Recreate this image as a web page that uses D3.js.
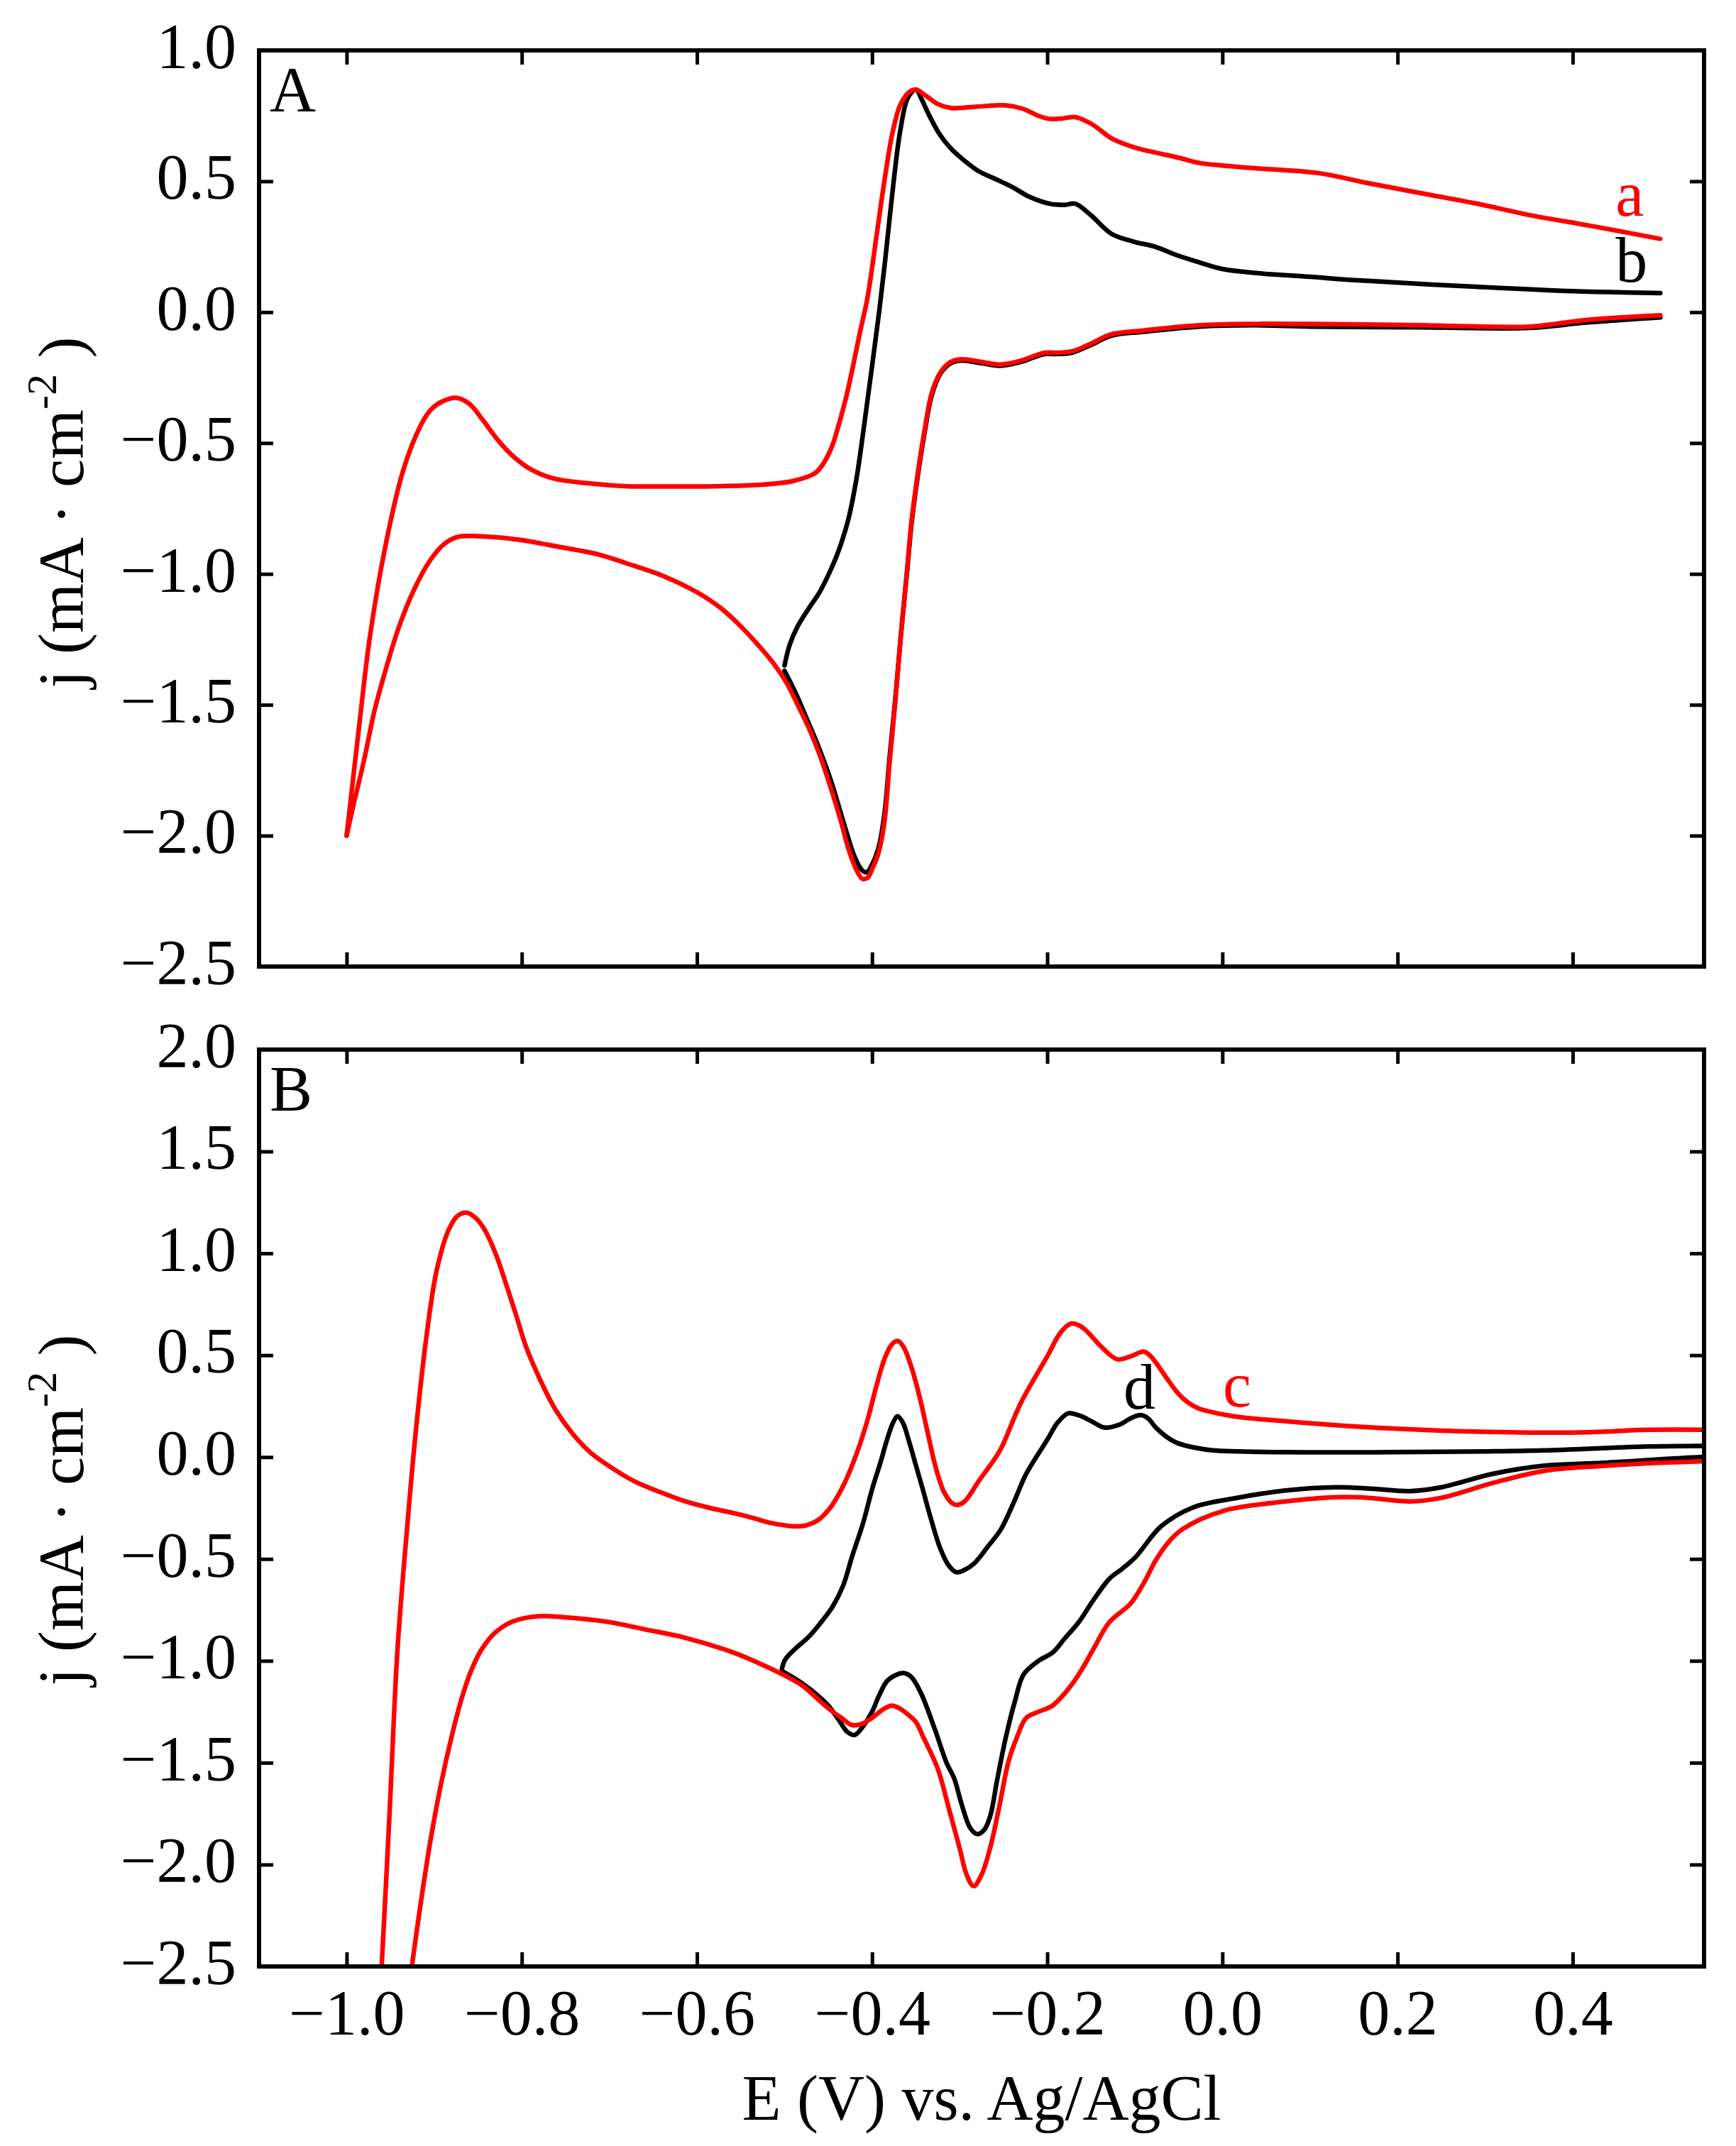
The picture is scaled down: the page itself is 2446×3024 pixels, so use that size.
<!DOCTYPE html>
<html><head><meta charset="utf-8">
<script src="https://cdn.jsdelivr.net/npm/d3@7"></script>
<style>
html,body{margin:0;padding:0;background:#fff;}
text{font-family:"Liberation Serif","Times New Roman",Times,serif;}
</style></head>
<body>
<svg id="chart" width="2446" height="3024"></svg>
<script>
// ---------- data ----------
const xTicks = [-1.0, -0.8, -0.6, -0.4, -0.2, 0.0, 0.2, 0.4];
const yTicksA = [1.0, 0.5, 0.0, -0.5, -1.0, -1.5, -2.0, -2.5];
const yTicksB = [2.0, 1.5, 1.0, 0.5, 0.0, -0.5, -1.0, -1.5, -2.0, -2.5];
const xDomain = [-1.1, 0.55];
const yDomainA = [-2.5, 1.0];
const yDomainB = [-2.5, 2.0];

// Panel A, curve a (red)   [E (V), j (mA cm-2)]
const curveA_a_fwd = [
 [-1.0,-2.0],[-0.986,-1.59],[-0.973,-1.23],[-0.954,-0.865],[-0.935,-0.6],[-0.915,-0.43],[-0.903,-0.37],
 [-0.89,-0.34],[-0.875,-0.327],[-0.86,-0.35],[-0.845,-0.41],[-0.827,-0.49],[-0.81,-0.55],[-0.79,-0.6],
 [-0.764,-0.635],[-0.72,-0.655],[-0.68,-0.665],[-0.637,-0.666],[-0.58,-0.665],[-0.53,-0.66],[-0.49,-0.645],
 [-0.465,-0.615],[-0.455,-0.575],[-0.446,-0.515],[-0.438,-0.43],[-0.43,-0.33],[-0.422,-0.21],[-0.414,-0.08],
 [-0.405,0.06],[-0.395,0.29],[-0.386,0.5],[-0.377,0.68],[-0.368,0.79],[-0.358,0.84],[-0.35,0.85],
 [-0.34,0.83],[-0.325,0.795],[-0.31,0.78],[-0.28,0.785],[-0.247,0.79],[-0.228,0.777],[-0.21,0.75],
 [-0.197,0.738],[-0.183,0.74],[-0.168,0.745],[-0.15,0.72],[-0.127,0.665],[-0.11,0.64],[-0.096,0.625],
 [-0.077,0.61],[-0.05,0.59],[-0.026,0.57],[0.0,0.56],[0.037,0.55],[0.112,0.53],[0.163,0.495],[0.226,0.455],
 [0.29,0.415],[0.352,0.37],[0.42,0.33],[0.5,0.28]
];
const curveA_a_rev = [
 [0.5,-0.012],[0.415,-0.03],[0.352,-0.055],[0.3,-0.055],[0.226,-0.05],[0.1,-0.045],[0.037,-0.045],
 [-0.026,-0.05],[-0.09,-0.07],[-0.127,-0.085],[-0.15,-0.12],[-0.172,-0.15],[-0.19,-0.155],[-0.203,-0.155],
 [-0.23,-0.185],[-0.254,-0.2],[-0.275,-0.19],[-0.298,-0.18],[-0.31,-0.19],[-0.322,-0.23],[-0.332,-0.31],
 [-0.34,-0.45],[-0.348,-0.62],[-0.355,-0.8],[-0.36,-0.985],[-0.367,-1.23],[-0.373,-1.47],[-0.38,-1.72],
 [-0.386,-1.95],[-0.393,-2.07],[-0.399,-2.12],[-0.405,-2.16],[-0.411,-2.165],[-0.418,-2.13],[-0.427,-2.05],
 [-0.436,-1.94],[-0.446,-1.83],[-0.46,-1.69],[-0.472,-1.59],[-0.485,-1.5],[-0.497,-1.42],[-0.513,-1.34],
 [-0.529,-1.276],[-0.55,-1.2],[-0.573,-1.13],[-0.6,-1.07],[-0.637,-1.01],[-0.68,-0.96],[-0.713,-0.925],
 [-0.76,-0.895],[-0.802,-0.87],[-0.83,-0.86],[-0.859,-0.855],[-0.875,-0.86],[-0.89,-0.89],[-0.905,-0.95],
 [-0.923,-1.06],[-0.94,-1.2],[-0.954,-1.35],[-0.968,-1.52],[-0.98,-1.71],[-0.992,-1.88],[-1.0,-2.0]
];

// Panel A, curve b (black)
const curveA_b_fwd = [
 [-0.5,-1.35],[-0.494,-1.27],[-0.485,-1.2],[-0.472,-1.13],[-0.46,-1.07],[-0.448,-0.99],[-0.437,-0.9],
 [-0.427,-0.79],[-0.418,-0.64],[-0.411,-0.48],[-0.405,-0.33],[-0.399,-0.18],[-0.392,0.0],[-0.385,0.2],
 [-0.377,0.45],[-0.368,0.69],[-0.359,0.82],[-0.35,0.85],[-0.343,0.81],[-0.336,0.76],[-0.323,0.68],
 [-0.31,0.625],[-0.295,0.58],[-0.279,0.54],[-0.26,0.51],[-0.241,0.48],[-0.22,0.44],[-0.197,0.414],
 [-0.18,0.41],[-0.168,0.414],[-0.15,0.37],[-0.127,0.3],[-0.102,0.27],[-0.077,0.25],[-0.05,0.215],
 [-0.026,0.19],[0.0,0.165],[0.037,0.15],[0.1,0.135],[0.163,0.12],[0.289,0.097],[0.4,0.08],[0.5,0.073]
];
const curveA_b_rev = [
 [0.5,-0.02],[0.415,-0.04],[0.352,-0.06],[0.226,-0.058],[0.1,-0.055],[0.037,-0.05],[-0.026,-0.055],
 [-0.09,-0.075],[-0.127,-0.09],[-0.15,-0.125],[-0.172,-0.155],[-0.19,-0.16],[-0.203,-0.16],[-0.23,-0.19],
 [-0.254,-0.205],[-0.275,-0.195],[-0.298,-0.185],[-0.31,-0.195],[-0.322,-0.235],[-0.332,-0.32],[-0.34,-0.46],
 [-0.348,-0.63],[-0.355,-0.81],[-0.36,-0.99],[-0.367,-1.23],[-0.373,-1.46],[-0.38,-1.7],[-0.386,-1.92],
 [-0.393,-2.05],[-0.4,-2.11],[-0.406,-2.14],[-0.412,-2.13],[-0.42,-2.08],[-0.428,-2.0],[-0.437,-1.9],
 [-0.447,-1.79],[-0.46,-1.67],[-0.475,-1.55],[-0.488,-1.45],[-0.5,-1.37]
];

// Panel B, curve c (red)
const curveB_c_fwd = [
 [-0.965,-2.85],[-0.96,-2.5],[-0.951,-1.75],[-0.942,-0.95],[-0.931,-0.35],[-0.92,0.17],[-0.908,0.62],
 [-0.897,0.92],[-0.883,1.12],[-0.873,1.185],[-0.863,1.2],[-0.853,1.175],[-0.843,1.12],[-0.83,1.0],
 [-0.818,0.85],[-0.806,0.69],[-0.795,0.54],[-0.778,0.37],[-0.762,0.236],[-0.742,0.115],[-0.722,0.024],
 [-0.7,-0.045],[-0.671,-0.12],[-0.64,-0.175],[-0.615,-0.215],[-0.585,-0.25],[-0.558,-0.275],[-0.535,-0.3],
 [-0.519,-0.32],[-0.5,-0.335],[-0.488,-0.34],[-0.475,-0.335],[-0.462,-0.31],[-0.448,-0.25],[-0.434,-0.15],
 [-0.42,-0.01],[-0.406,0.17],[-0.395,0.35],[-0.386,0.48],[-0.378,0.55],[-0.371,0.57],[-0.364,0.54],
 [-0.355,0.44],[-0.346,0.3],[-0.337,0.13],[-0.328,-0.04],[-0.318,-0.17],[-0.309,-0.225],[-0.3035,-0.235],
 [-0.295,-0.22],[-0.277,-0.11],[-0.265,-0.04],[-0.253,0.04],[-0.23,0.267],[-0.2,0.494],[-0.185,0.61],
 [-0.173,0.655],[-0.163,0.645],[-0.153,0.61],[-0.138,0.54],[-0.12,0.48],[-0.105,0.494],[-0.09,0.518],
 [-0.083,0.5],[-0.076,0.464],[-0.064,0.39],[-0.052,0.32],[-0.04,0.27],[-0.028,0.24],[0.013,0.2],
 [0.072,0.176],[0.161,0.148],[0.25,0.13],[0.33,0.122],[0.398,0.12],[0.44,0.125],[0.475,0.133],[0.56,0.134]
];
const curveB_c_rev = [
 [0.56,-0.02],[0.546,-0.021],[0.427,-0.045],[0.368,-0.067],[0.309,-0.127],[0.25,-0.2],[0.214,-0.218],
 [0.167,-0.2],[0.13,-0.197],[0.072,-0.218],[0.001,-0.264],[-0.046,-0.355],[-0.062,-0.42],[-0.076,-0.506],
 [-0.09,-0.62],[-0.105,-0.72],[-0.129,-0.81],[-0.147,-0.94],[-0.164,-1.067],[-0.18,-1.16],[-0.194,-1.22],
 [-0.21,-1.25],[-0.224,-1.28],[-0.235,-1.38],[-0.244,-1.49],[-0.255,-1.72],[-0.265,-1.915],[-0.275,-2.05],
 [-0.284,-2.106],[-0.292,-2.05],[-0.3,-1.92],[-0.312,-1.73],[-0.325,-1.53],[-0.342,-1.37],[-0.35,-1.3],
 [-0.36,-1.26],[-0.37,-1.23],[-0.378,-1.22],[-0.388,-1.24],[-0.4,-1.28],[-0.412,-1.31],[-0.423,-1.315],
 [-0.435,-1.28],[-0.448,-1.24],[-0.462,-1.188],[-0.48,-1.12],[-0.502,-1.067],[-0.53,-1.01],[-0.558,-0.96],
 [-0.615,-0.885],[-0.66,-0.845],[-0.7,-0.81],[-0.74,-0.79],[-0.773,-0.78],[-0.79,-0.785],[-0.812,-0.81],
 [-0.83,-0.86],[-0.846,-0.945],[-0.858,-1.05],[-0.869,-1.19],[-0.88,-1.37],[-0.892,-1.6],[-0.903,-1.85],
 [-0.913,-2.12],[-0.923,-2.42],[-0.926,-2.52],[-0.93,-2.65]
];

// Panel B, curve d (black)
const curveB_d_fwd = [
 [-0.503,-1.04],[-0.5,-1.0],[-0.496,-0.976],[-0.485,-0.93],[-0.473,-0.885],[-0.46,-0.82],[-0.445,-0.733],
 [-0.433,-0.63],[-0.423,-0.49],[-0.41,-0.32],[-0.4,-0.158],[-0.39,-0.02],[-0.383,0.085],[-0.376,0.17],
 [-0.371,0.2],[-0.365,0.17],[-0.358,0.08],[-0.35,-0.04],[-0.342,-0.16],[-0.333,-0.3],[-0.322,-0.45],
 [-0.312,-0.535],[-0.304,-0.565],[-0.295,-0.555],[-0.283,-0.52],[-0.268,-0.44],[-0.253,-0.355],[-0.238,-0.22],
 [-0.224,-0.082],[-0.2,0.085],[-0.188,0.17],[-0.176,0.215],[-0.168,0.21],[-0.159,0.197],[-0.147,0.17],
 [-0.135,0.145],[-0.117,0.16],[-0.105,0.19],[-0.093,0.206],[-0.085,0.19],[-0.076,0.145],[-0.064,0.1],
 [-0.052,0.07],[-0.03,0.045],[-0.011,0.033],[0.072,0.024],[0.19,0.024],[0.3,0.028],[0.368,0.033],
 [0.486,0.052],[0.56,0.055]
];
const curveB_d_rev = [
 [0.56,0.0],[0.546,0.0],[0.427,-0.03],[0.368,-0.042],[0.309,-0.082],[0.25,-0.148],[0.214,-0.167],
 [0.17,-0.155],[0.13,-0.148],[0.072,-0.164],[0.013,-0.203],[-0.034,-0.248],[-0.07,-0.34],[-0.099,-0.49],
 [-0.115,-0.55],[-0.129,-0.597],[-0.147,-0.7],[-0.164,-0.81],[-0.18,-0.89],[-0.194,-0.96],[-0.21,-1.0],
 [-0.227,-1.067],[-0.237,-1.2],[-0.247,-1.37],[-0.257,-1.58],[-0.265,-1.76],[-0.272,-1.83],[-0.28,-1.85],
 [-0.288,-1.82],[-0.298,-1.7],[-0.306,-1.58],[-0.315,-1.5],[-0.328,-1.34],[-0.344,-1.16],[-0.355,-1.08],
 [-0.364,-1.06],[-0.373,-1.07],[-0.383,-1.1],[-0.392,-1.17],[-0.4,-1.25],[-0.41,-1.32],[-0.42,-1.364],
 [-0.428,-1.35],[-0.438,-1.29],[-0.45,-1.22],[-0.462,-1.17],[-0.48,-1.11],[-0.503,-1.05]
];

// ---------- drawing ----------
const svg = d3.select("#chart");
const FS = 90;
const FONT = '"Liberation Serif","Times New Roman",Times,serif';
const left = 365, right = 2401;
const x = d3.scaleLinear().domain(xDomain).range([left, right]);
const yA = d3.scaleLinear().domain(yDomainA).range([1362, 71]);
const yB = d3.scaleLinear().domain(yDomainB).range([2771, 1479]);
const fmt = d3.format(".1f");

function panel(id, y, yTicks, showXLabels, series, labels, label, titleCY){
  const top = y.range()[1], bottom = y.range()[0];
  const g = svg.append("g");
  g.append("clipPath").attr("id", "clip"+id).append("rect")
    .attr("x", left).attr("y", top).attr("width", right-left).attr("height", bottom-top);
  const styleAxis = (sel, lab) => {
    sel.attr("font-family", FONT);
    sel.select(".domain").remove();
    sel.selectAll(".tick line").attr("stroke", "#000").attr("stroke-width", 5);
    sel.selectAll(".tick text").attr("font-size", FS).attr("fill", "#000");
    if(!lab) sel.selectAll(".tick text").remove();
  };
  g.append("g").attr("transform", `translate(${left},0)`)
    .call(d3.axisLeft(y).tickValues(yTicks).tickFormat(fmt).tickSize(-20).tickPadding(32))
    .call(s => styleAxis(s, true))
    .call(s => s.selectAll(".tick text").attr("dy", "0.27em"));
  g.append("g").attr("transform", `translate(${right},0)`)
    .call(d3.axisRight(y).tickValues(yTicks).tickSize(-20)).call(s => styleAxis(s, false));
  g.append("g").attr("transform", `translate(0,${bottom})`)
    .call(d3.axisBottom(x).tickValues(xTicks).tickFormat(fmt).tickSize(-20).tickPadding(32))
    .call(s => styleAxis(s, showXLabels));
  g.append("g").attr("transform", `translate(0,${top})`)
    .call(d3.axisTop(x).tickValues(xTicks).tickSize(-20)).call(s => styleAxis(s, false));

  const line = d3.line().x(d => x(d[0])).y(d => y(d[1])).curve(d3.curveCatmullRom.alpha(0.5));
  const cg = g.append("g").attr("clip-path", `url(#clip${id})`);
  series.forEach(s => {
    cg.append("path").datum(s.data).attr("d", line)
      .attr("fill", "none").attr("stroke", s.color).attr("stroke-width", 6.5)
      .attr("stroke-linejoin", "round").attr("stroke-linecap", "round");
  });
  labels.forEach(l => {
    g.append("text").attr("x", x(l.e)).attr("y", y(l.j))
      .attr("font-size", FS).attr("fill", l.color).text(l.t);
  });

  g.append("rect").attr("x", left).attr("y", top).attr("width", right-left).attr("height", bottom-top)
    .attr("fill", "none").attr("stroke", "#000").attr("stroke-width", 6);

  g.append("text").attr("x", 380).attr("y", top + 86).attr("font-size", FS).text(label);

  const t = g.append("text").attr("font-size", FS).attr("text-anchor", "middle")
    .attr("transform", `translate(117,${titleCY}) rotate(-90)`);
  t.append("tspan").text("j (mA \u00B7 cm");
  t.append("tspan").attr("font-size", 60).attr("dy", -38).text("-2");
  t.append("tspan").attr("dy", 38).text("\u00A0)");
}

panel("A", yA, yTicksA, false, [
  {data: curveA_b_fwd, color: "#000000"},
  {data: curveA_b_rev, color: "#000000"},
  {data: curveA_a_rev, color: "#ff0000"},
  {data: curveA_a_fwd, color: "#ff0000"}
], [
  {t: "a", e: 0.449, j: 0.368, color: "#ff0000"},
  {t: "b", e: 0.449, j: 0.116, color: "#000000"}
], "A", 722);

panel("B", yB, yTicksB, true, [
  {data: curveB_d_fwd, color: "#000000"},
  {data: curveB_d_rev, color: "#000000"},
  {data: curveB_c_fwd, color: "#ff0000"},
  {data: curveB_c_rev, color: "#ff0000"}
], [
  {t: "d", e: -0.113, j: 0.238, color: "#000000"},
  {t: "c", e: 0.0006, j: 0.248, color: "#ff0000"}
], "B", 2128);

svg.append("text").attr("x", (left+right)/2).attr("y", 2987).attr("font-size", FS)
  .attr("text-anchor", "middle").text("E (V) vs. Ag/AgCl");
</script>
</body></html>
